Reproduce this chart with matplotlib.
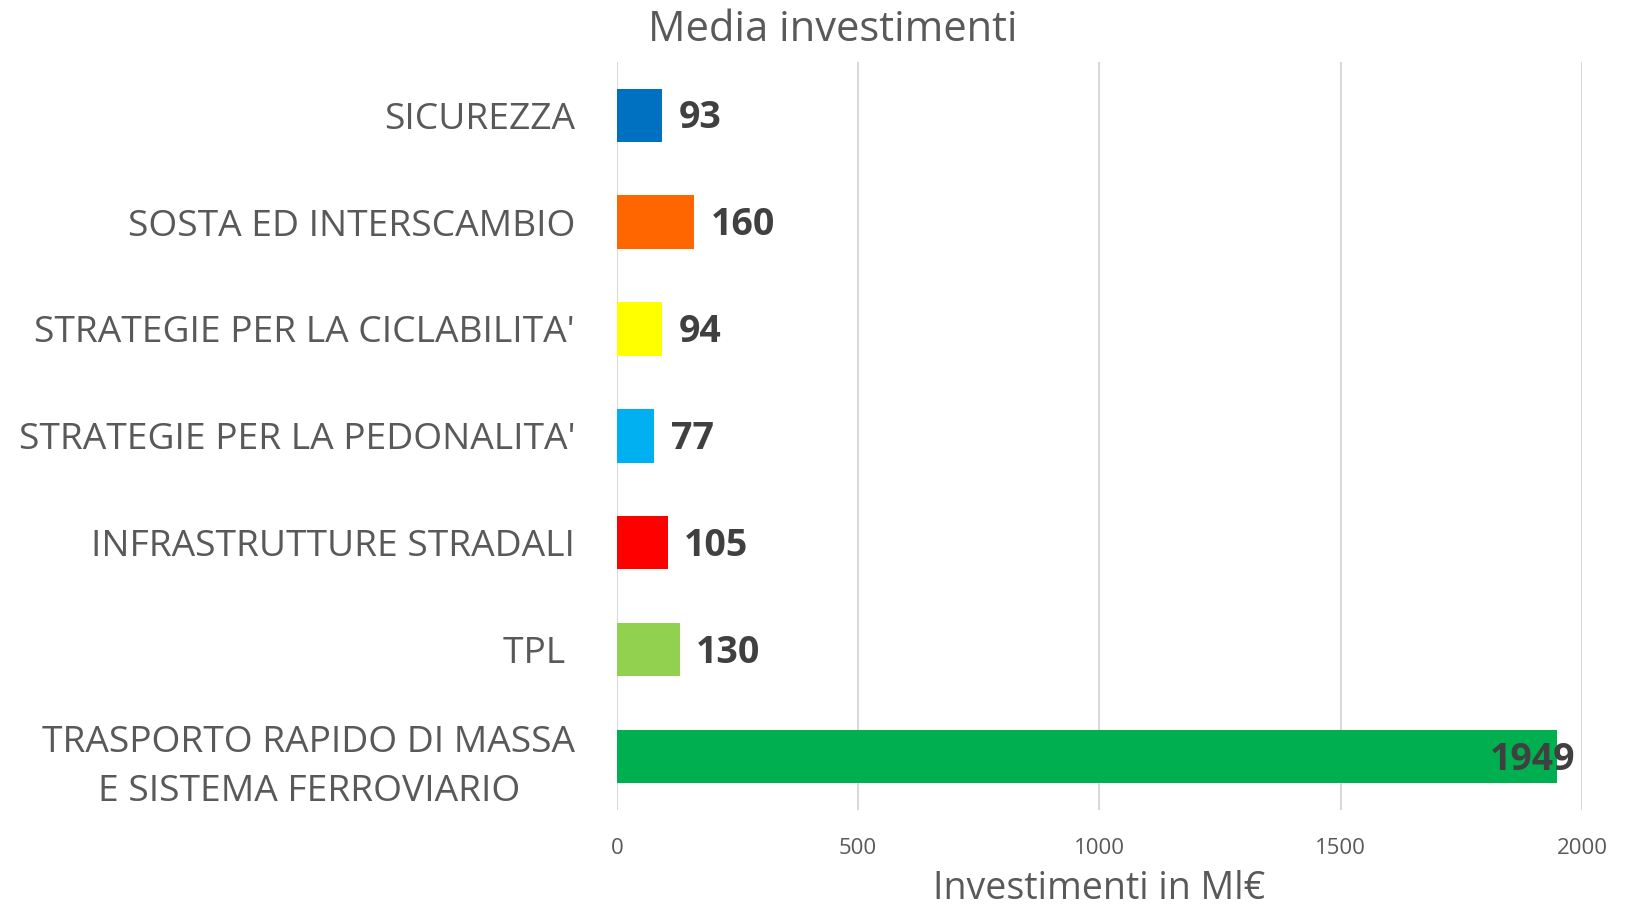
import matplotlib.pyplot as plt

categories = ["SICUREZZA", "SOSTA ED INTERSCAMBIO", "STRATEGIE PER LA CICLABILITA'",
              "STRATEGIE PER LA PEDONALITA'", "INFRASTRUTTURE STRADALI", "TPL ",
              "TRASPORTO RAPIDO DI MASSA\nE SISTEMA FERROVIARIO"]
values = [93, 160, 94, 77, 105, 130, 1949]
colors = ["#0070C0", "#FF6600", "#FFFF00", "#00B0F0", "#FF0000", "#92D050", "#00B050"]
xticks = [0, 500, 1000, 1500, 2000]

plt.rcParams['font.family'] = ['Open Sans', 'DejaVu Sans']

fig = plt.figure(figsize=(16.32, 9.09), dpi=100)
ax = fig.add_axes([0.378, 0.109, 0.5914, 0.823])

y = list(range(len(categories)))
ax.barh(y, values, height=0.5, color=colors, zorder=3)
ax.set_ylim(len(categories) - 0.5, -0.5)
ax.set_xlim(0, 2000)
ax.set_xticks(xticks)
ax.set_yticks(y)
ax.set_yticklabels(categories, fontsize=26.8, color="#595959", linespacing=1.5)
for t in ax.get_yticklabels():
    t.set_multialignment('center')
ax.tick_params(axis='y', length=0, pad=30)
ax.tick_params(axis='x', length=0, labelsize=16, labelcolor="#595959", pad=20)
ax.grid(axis='x', color="#D9D9D9", linewidth=1.5, zorder=0)
for s in ax.spines.values():
    s.set_visible(False)

for yi, v in zip(y, values):
    if v > 1800:
        ax.text(1985, yi + 0.03, str(v), ha='right', va='center', fontsize=27,
                fontweight='bold', color="#404040", zorder=4)
    else:
        ax.annotate(str(v), (v, yi + 0.03), xytext=(12, 0), textcoords='offset points',
                    ha='left', va='center', fontsize=27, fontweight='bold', color="#404040")

ax.set_xlabel("Investimenti in Ml€", fontsize=27, color="#595959", labelpad=8)
fig.suptitle("Media investimenti", x=0.51, y=0.99, fontsize=30, color="#595959")

fig.savefig("out.png", dpi=100)
